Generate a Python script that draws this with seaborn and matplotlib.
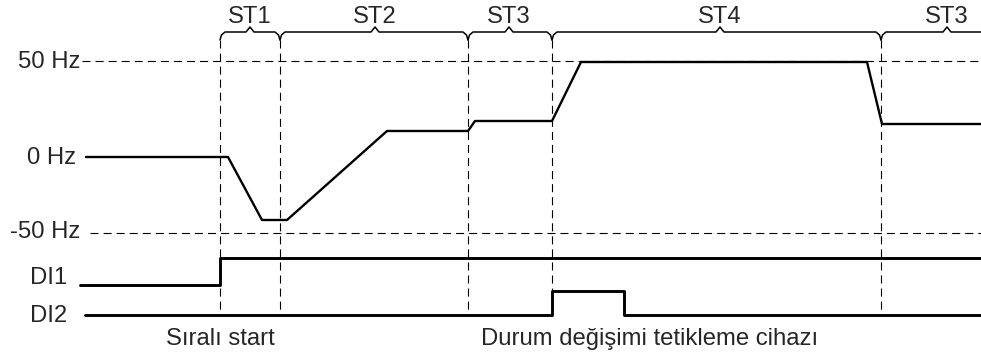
import matplotlib
matplotlib.use("Agg")
import matplotlib.pyplot as plt
import pandas as pd
import seaborn as sns

sns.set_style("white")
plt.rcParams["font.family"] = ["Liberation Sans", "DejaVu Sans"]
plt.rcParams["lines.scale_dashes"] = False

## Part 0: diagram values (screen units, y grows downward)
freq_t = [86, 228, 262, 287, 387, 468, 475, 552, 581, 867, 882, 981]
freq_y = [157, 157, 220, 220, 131, 131, 121, 121, 62, 62, 124, 124]

di1_t = [80, 220, 220, 981]
di1_y = [285, 285, 258, 258]

di2_t = [85, 552, 552, 624, 624, 981]
di2_y = [315, 315, 291, 291, 315, 315]

# state boundaries and the state names over them
bound_t = [220, 280, 468, 552, 881]
state_names = ["ST1", "ST2", "ST3", "ST4", "ST3"]
state_start = [220, 280, 468, 552, 881]
state_end = [280, 468, 552, 881, 1010]
state_tip = [250, 375, 509, 720, 947]

# level labels
level_names = ["50 Hz", "0 Hz", "-50 Hz", "DI1", "DI2"]
label_right = [81, 76, 80, 67, 67]
label_base = [68, 164, 238, 284, 322]
ref_levels = [61, 233]
ref_start = [82, 90]

event_names = ["Sıralı start", "Durum değişimi tetikleme cihazı"]
event_t = [220, 481]
event_ha = ["center", "left"]

FS = 17.2

## Part 1: figure
fig = plt.figure(figsize=(9.81, 3.56), dpi=100)
ax = fig.add_axes([0, 0, 1, 1])

dash = (0, (5.8, 3.6))
for y, x0 in zip(ref_levels, ref_start):
    ax.plot([x0, 981], [y, y], color="black", lw=0.8, linestyle=dash)
for t in bound_t:
    ax.plot([t, t], [40, 315], color="black", lw=0.8, linestyle=dash)

df_freq = pd.DataFrame({"t": freq_t, "y": freq_y})
df_di1 = pd.DataFrame({"t": di1_t, "y": di1_y})
df_di2 = pd.DataFrame({"t": di2_t, "y": di2_y})
for df, lw in [(df_freq, 1.7), (df_di1, 2.1), (df_di2, 2.1)]:
    sns.lineplot(data=df, x="t", y="y", ax=ax, color="black", lw=lw,
                 sort=False, estimator=None)

## Part 2: state braces
for name, a, b, c in zip(state_names, state_start, state_end, state_tip):
    bx = [a, a + 1.5, a + 5, c - 4, c, c + 4, b - 5, b - 1.5, b]
    by = [40, 35, 32, 32, 27, 32, 32, 35, 40]
    ax.plot(bx, by, color="black", lw=1.1)
    ax.text(c, 22.7, name, ha="center", va="baseline", fontsize=FS)

## Part 3: labels
for name, xr, yb in zip(level_names, label_right, label_base):
    ax.text(xr, yb, name, ha="right", va="baseline", fontsize=FS)
for name, t, ha in zip(event_names, event_t, event_ha):
    ax.text(t, 345, name, ha=ha, va="baseline", fontsize=FS)

ax.set_xlim(0, 981)
ax.set_ylim(356, 0)
ax.axis("off")

fig.savefig("out.png", dpi=100)
